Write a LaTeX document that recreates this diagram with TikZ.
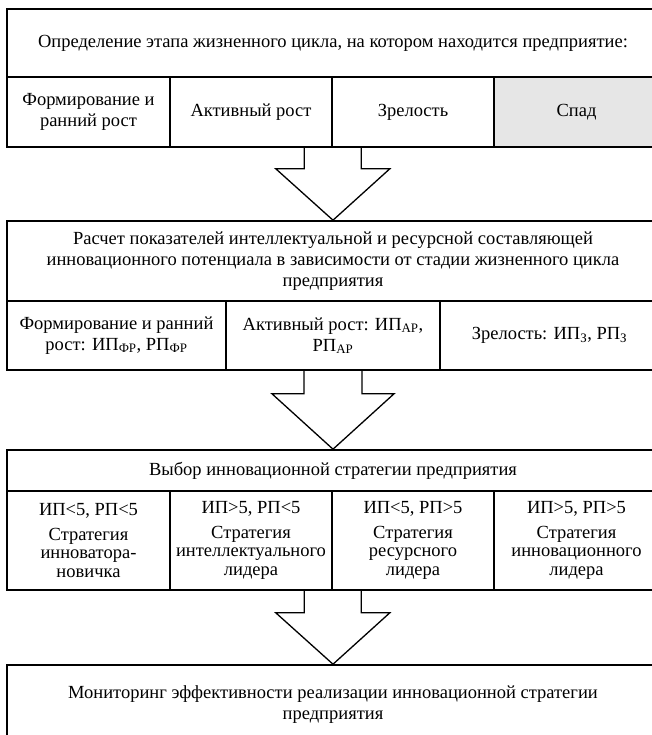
\documentclass[tikz,border=0pt]{standalone}
\usepackage{fontspec}
\setmainfont{Liberation Serif}
\usetikzlibrary{calc}
\definecolor{spadgray}{RGB}{230,230,230}
\begin{document}
\begin{tikzpicture}[x=1pt,y=-1pt,
  cell/.style={draw=black, line width=1.6pt, align=center, inner sep=0pt,
    font=\fontsize{18.5}{21}\selectfont},
  tight/.style={font=\fontsize{18.5}{18.5}\selectfont},
  fatarr/.style={draw=black, line width=1.3pt, line join=miter}]
\useasboundingbox (0,0) rectangle (652,735);
\clip (0,0) rectangle (652,735);
\fill[white] (0,0) rectangle (652,735);

% Block 1
\node[cell, minimum width=652, minimum height=68] (h1) at (333,43)
  {Определение этапа жизненного цикла, на котором находится предприятие:};
\node[cell, minimum width=163, minimum height=70] (b1c1) at (88.5,112) {Формирование и\\ранний рост};
\node[cell, minimum width=162, minimum height=70] (b1c2) at (251,112) {Активный рост};
\node[cell, minimum width=162, minimum height=70] (b1c3) at (413,112) {Зрелость};
\node[cell, fill=spadgray, minimum width=165, minimum height=70] (b1c4) at (576.5,112) {Спад};

% Block 2
\node[cell, minimum width=652, minimum height=80] (h2) at (333,261)
  {Расчет показателей интеллектуальной и ресурсной составляющей\\инновационного потенциала в зависимости от стадии жизненного цикла\\предприятия};
\node[cell, minimum width=219, minimum height=69] (b2c1) at (116.5,335.5)
  {Формирование и ранний\\рост: ИП\textsubscript{ФР}, РП\textsubscript{ФР}};
\node[cell, minimum width=214, minimum height=69] (b2c2) at (333,335.5)
  {Активный рост: ИП\textsubscript{АР},\\РП\textsubscript{АР}};
\node[cell, minimum width=219, minimum height=69] (b2c3) at (549.5,335.5)
  {Зрелость: ИП\textsubscript{З}, РП\textsubscript{З}};

% Block 3
\node[cell, minimum width=652, minimum height=41] (h3) at (333,470.5)
  {Выбор инновационной стратегии предприятия};
\node[cell, tight, minimum width=163, minimum height=99] (b3c1) at (88.5,540.5)
  {ИП<5, РП<5\\[6pt]Стратегия\\инноватора-\\новичка};
\node[cell, tight, minimum width=162, minimum height=99] (b3c2) at (251,540.5)
  {ИП>5, РП<5\\[6pt]Стратегия\\интеллектуального\\лидера};
\node[cell, tight, minimum width=162, minimum height=99] (b3c3) at (413,540.5)
  {ИП<5, РП>5\\[6pt]Стратегия\\ресурсного\\лидера};
\node[cell, tight, minimum width=165, minimum height=99] (b3c4) at (576.5,540.5)
  {ИП>5, РП>5\\[6pt]Стратегия\\инновационного\\лидера};

% Block 4
\node[cell, minimum width=652, minimum height=80] (h4) at (333,705)
  {Мониторинг эффективности реализации инновационной стратегии\\предприятия};

% Block arrows
\draw[fatarr] let \p1=(b1c2.south east), \p2=(h2.north) in
  (\x1-28.5pt,\y1) -- (\x1-28.5pt,\y1-21pt) -- (\x1-57pt,\y1-21pt) -- (\x2,\y2)
  -- (\x1+57pt,\y1-21pt) -- (\x1+28.5pt,\y1-21pt) -- (\x1+28.5pt,\y1);
\draw[fatarr] let \p1=(b2c2.south), \p2=(h3.north) in
  (\x1-29pt,\y1) -- (\x1-29pt,\y1-23pt) -- (\x1-61pt,\y1-23pt) -- (\x2,\y2)
  -- (\x1+61pt,\y1-23pt) -- (\x1+29pt,\y1-23pt) -- (\x1+29pt,\y1);
\draw[fatarr] let \p1=(b3c2.south east), \p2=(h4.north) in
  (\x1-28.5pt,\y1) -- (\x1-28.5pt,\y1-22pt) -- (\x1-57pt,\y1-22pt) -- (\x2,\y2)
  -- (\x1+57pt,\y1-22pt) -- (\x1+28.5pt,\y1-22pt) -- (\x1+28.5pt,\y1);
\end{tikzpicture}
\end{document}
